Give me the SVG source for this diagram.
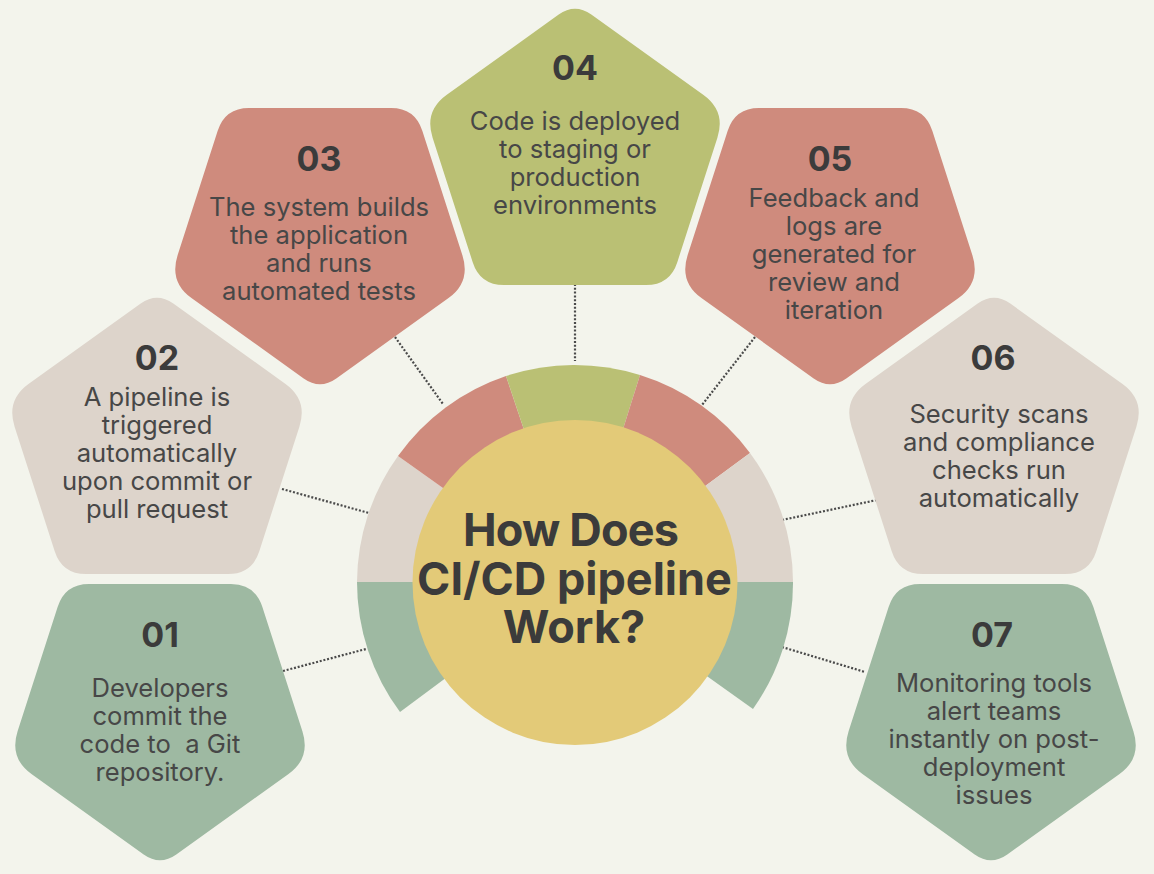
<svg xmlns="http://www.w3.org/2000/svg" width="1154" height="874" viewBox="0 0 1154 874">
<style>
.g{fill:#9eb9a2}.b{fill:#ddd4cb}.r{fill:#cf8b7d}.o{fill:#bac074}
text{font-family:"Inter","Liberation Sans",sans-serif;text-anchor:middle;white-space:pre}
.n{font-size:34px;font-weight:700;fill:#3b3b3b}
.t{font-size:25.6px;font-weight:400;fill:#474747}
.h{font-size:45px;font-weight:700;fill:#3b3b3b}
#connectors line{stroke:#4a4a4a;stroke-width:2.2;stroke-dasharray:2 1.8;fill:none}
</style>
<defs>
<path id="p" d="M-71 0H71Q95 0 102.3 22.8L142.4 147.3Q151 174 128.2 190.3L16.3 270.4Q0 282 -16.3 270.4L-128.2 190.3Q-151 174 -142.4 147.3L-102.3 22.8Q-95 0 -71 0Z"/>
</defs>
<rect width="1154" height="874" fill="#f3f4ec"/>
<g id="connectors">
<line x1="283" y1="671" x2="366" y2="649"/>
<line x1="282" y1="489" x2="369" y2="513"/>
<line x1="395" y1="337" x2="443" y2="404"/>
<line x1="575" y1="284" x2="575" y2="361"/>
<line x1="755" y1="337" x2="702" y2="405"/>
<line x1="877" y1="500" x2="782" y2="520"/>
<line x1="782" y1="647" x2="865" y2="672"/>
</g>
<g id="hub">
<path class="g" d="M575 582H357A218 218 0 0 0 400 712Z"/>
<path class="b" d="M575 582H357A218 218 0 0 1 398 456Z"/>
<path class="r" d="M575 582L398 456A218 218 0 0 1 506 376Z"/>
<path class="o" d="M575 582L506 376A218 218 0 0 1 640 375Z"/>
<path class="r" d="M575 582L640 375A218 218 0 0 1 750 453Z"/>
<path class="b" d="M575 582L750 453A218 218 0 0 1 793 582Z"/>
<path class="g" d="M575 582H793A218 218 0 0 1 753 709Z"/>
<circle cx="575" cy="582.5" r="162.5" fill="#e3ca78"/>
<text class="h" x="570.5" y="546" letter-spacing="-0.8">How Does</text>
<text class="h" x="574.5" y="595">CI/CD pipeline</text>
<text class="h" x="574" y="643">Work?</text>
</g>
<g id="node01">
<use href="#p" class="g" transform="translate(160 584)"/>
<text class="n" x="160" y="647">01</text>
<text class="t" x="160" y="697">Developers</text>
<text class="t" x="160" y="725">commit the</text>
<text class="t" x="160" y="753">code to  a Git</text>
<text class="t" x="160" y="781">repository.</text>
</g>
<g id="node02">
<use href="#p" class="b" transform="translate(157 574) scale(1 -1)"/>
<text class="n" x="157" y="370">02</text>
<text class="t" x="157" y="406">A pipeline is</text>
<text class="t" x="157" y="434">triggered</text>
<text class="t" x="157" y="462">automatically</text>
<text class="t" x="157" y="490">upon commit or</text>
<text class="t" x="157" y="518">pull request</text>
</g>
<g id="node03">
<use href="#p" class="r" transform="translate(320 108)"/>
<text class="n" x="319" y="171">03</text>
<text class="t" x="319" y="216">The system builds</text>
<text class="t" x="319" y="244">the application</text>
<text class="t" x="319" y="272">and runs</text>
<text class="t" x="319" y="300">automated tests</text>
</g>
<g id="node04">
<use href="#p" class="o" transform="translate(575 285) scale(1 -1)"/>
<text class="n" x="575" y="80">04</text>
<text class="t" x="575" y="130">Code is deployed</text>
<text class="t" x="575" y="158">to staging or</text>
<text class="t" x="575" y="186">production</text>
<text class="t" x="575" y="214">environments</text>
</g>
<g id="node05">
<use href="#p" class="r" transform="translate(830 108)"/>
<text class="n" x="830" y="171">05</text>
<text class="t" x="834" y="207">Feedback and</text>
<text class="t" x="834" y="235">logs are</text>
<text class="t" x="834" y="263">generated for</text>
<text class="t" x="834" y="291">review and</text>
<text class="t" x="834" y="319">iteration</text>
</g>
<g id="node06">
<use href="#p" class="b" transform="translate(994 574) scale(1 -1)"/>
<text class="n" x="993" y="370">06</text>
<text class="t" x="999" y="423">Security scans</text>
<text class="t" x="999" y="451">and compliance</text>
<text class="t" x="999" y="479">checks run</text>
<text class="t" x="999" y="507">automatically</text>
</g>
<g id="node07">
<use href="#p" class="g" transform="translate(991 584)"/>
<text class="n" x="992" y="647">07</text>
<text class="t" x="994" y="692">Monitoring tools</text>
<text class="t" x="994" y="720">alert teams</text>
<text class="t" x="994" y="748">instantly on post-</text>
<text class="t" x="994" y="776">deployment</text>
<text class="t" x="994" y="804">issues</text>
</g>
</svg>
